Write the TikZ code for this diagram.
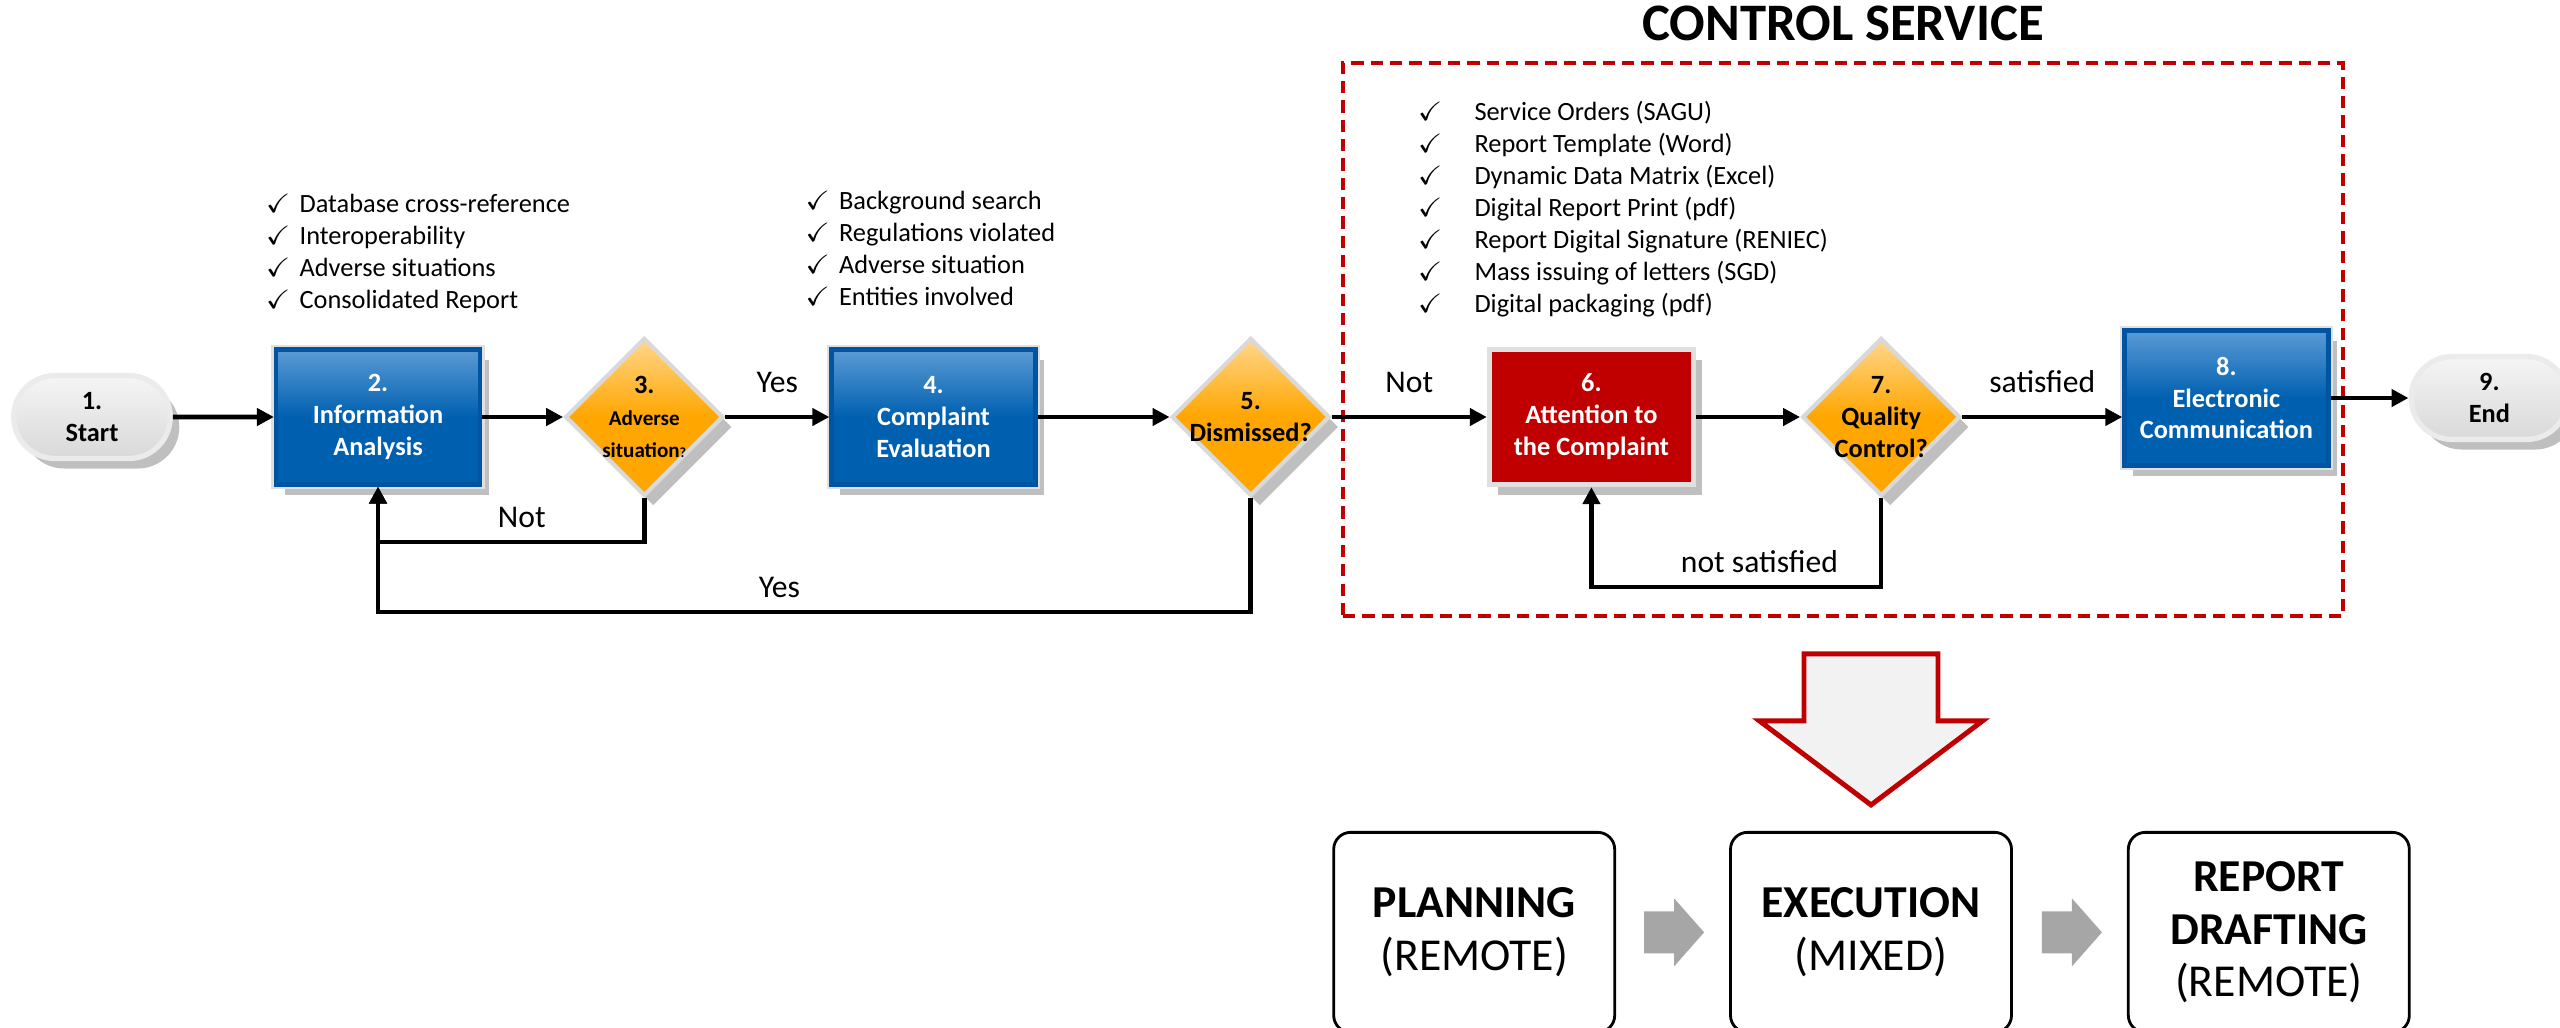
\documentclass[tikz,border=0pt]{standalone}
\usepackage{fontspec}
\setmainfont{Carlito}
\usepackage{amssymb}
\usetikzlibrary{calc}
\usetikzlibrary{arrows.meta}
\usetikzlibrary{positioning}
\usetikzlibrary{shapes.geometric}
\usetikzlibrary{shapes.misc}
\usetikzlibrary{shadows}

\definecolor{boxtop}{RGB}{91,155,213}
\definecolor{boxbot}{RGB}{0,96,176}
\definecolor{boxedge}{RGB}{0,84,160}
\definecolor{ctrlred}{RGB}{192,0,0}
\definecolor{ambertop}{RGB}{255,215,140}
\definecolor{amber}{RGB}{255,166,0}
\definecolor{shadowgray}{RGB}{191,191,191}
\definecolor{stepgray}{RGB}{166,166,166}
\definecolor{arrowfill}{RGB}{242,242,242}

\newcommand{\listtick}[1][0.34cm]{\makebox[#1][l]{$\checkmark$}}

\tikzstyle{boxshadow} = [drop shadow={shadow xshift=0.09cm, shadow yshift=-0.1cm,
    fill=shadowgray, opacity=1}]
\tikzstyle{stepbox} = [rectangle, boxshadow, align=center, text=white,
    font=\fontsize{7.5}{9.1}\selectfont\bfseries, minimum width=2.04cm, minimum height=1.35cm]
\tikzstyle{block} = [stepbox, preaction={draw=black!12, line width=2.6pt},
    draw=boxedge, line width=1.2pt, top color=boxtop, bottom color=boxbot, middle color=boxbot]
\tikzstyle{redblock} = [stepbox, draw=black!12, line width=1.5pt, fill=ctrlred]
\tikzstyle{decision} = [diamond, aspect=1, boxshadow, draw=black!15, line width=1.2pt,
    top color=ambertop, bottom color=amber, middle color=amber, align=center,
    font=\fontsize{7.5}{9.1}\selectfont\bfseries, minimum width=1.58cm, minimum height=1.58cm,
    inner sep=-0.2cm]
\tikzstyle{terminal} = [rounded rectangle, boxshadow, draw=black!8, line width=1.5pt,
    top color=black!4, bottom color=black!15, align=center,
    font=\fontsize{7.5}{9.1}\selectfont\bfseries, minimum width=1.8cm, minimum height=0.83cm]
\tikzstyle{flow} = [-{Triangle[length=0.17cm,width=0.17cm]}, line width=1.3pt]
\tikzstyle{lbl} = [font=\fontsize{9}{11}\selectfont]
\tikzstyle{checklist} = [align=left, inner sep=0, font=\fontsize{7.5}{9.1}\selectfont]
\tikzstyle{dashbox} = [draw=ctrlred, dash pattern=on 3.5pt off 2pt, line width=1.1pt,
    minimum width=10cm, minimum height=5.53cm]
\tikzstyle{phase} = [rectangle, rounded corners=0.17cm, draw, line width=0.8pt,
    minimum width=2.81cm, minimum height=2cm, align=center, font=\fontsize{13}{15}\selectfont]

\begin{document}
\begin{tikzpicture}
    \useasboundingbox (0,0) rectangle (25.6,-10.27);

    % control service frame
    \node[dashbox] (svc) at (18.43,-3.395) {};
    \node[font=\fontsize{15}{18}\selectfont\bfseries, inner sep=0, above=0.2cm of svc] (title) {CONTROL SERVICE};

    % main flow
    \node[terminal] (start) at (0.92,-4.17) {1.\\Start};
    \node[block, right=1.01cm of start] (info) {2.\\Information\\Analysis};
    \node[decision, right=0.81cm of info] (adv)
        {3.\\{\fontsize{6}{7.6}\selectfont Adverse}\\{\fontsize{6}{7.6}\selectfont situation{\fontsize{4}{4}\selectfont ?}}};
    \node[block, right=1.04cm of adv] (eval) {4.\\Complaint\\Evaluation};
    \node[decision, right=1.32cm of eval] (dis) {5.\\Dismissed?};
    \node[redblock, right=1.55cm of dis] (att) {6.\\Attention to\\the Complaint};
    \node[decision, right=1.04cm of att] (qc) {7.\\Quality\\Control?};
    \node[block, right=1.6cm of qc, yshift=0.19cm] (comm) {8.\\Electronic\\Communication};
    \node[terminal, right=0.78cm of comm] (fin) {9.\\End};

    \draw[flow] (start) -- (info);
    \draw[flow] (info) -- (adv);
    \draw[flow] (adv) -- node[lbl, above=0.1cm] (yes1) {Yes} (eval);
    \draw[flow] (eval) -- (dis);
    \draw[flow] (dis) -- node[lbl, above=0.1cm] (not1) {Not} (att);
    \draw[flow] (att) -- (qc);
    \draw[flow] (qc) -- node[lbl, above=0.1cm] (sat) {satisfied} (qc -| comm.west);
    \draw[flow] (comm) -- (fin);

    % loops back
    \draw[flow] (adv.south) -- ++(0,-0.44) -| node[lbl, above, pos=0.23] (not2) {Not} (info.south);
    \draw[flow] (dis.south) -- ++(0,-1.14) -| node[lbl, above, pos=0.27] (yes2) {Yes} (info.south);
    \draw[flow] (qc.south) -- ++(0,-0.89) -| node[lbl, above, pos=0.21] (notsat) {not satisfied} (att.south);

    % check lists
    \node[checklist, above right=0.34cm and -0.09cm of info.north west] (infolist)
        {\listtick Database cross-reference\\\listtick Interoperability\\\listtick Adverse situations\\\listtick Consolidated Report};
    \node[checklist, above right=0.41cm and -0.25cm of eval.north west] (evallist)
        {\listtick Background search\\\listtick Regulations violated\\\listtick Adverse situation\\\listtick Entities involved};
    \node[checklist, above right=0.29cm and -0.70cm of att.north west] (svclist)
        {\listtick[0.57cm]Service Orders (SAGU)\\\listtick[0.57cm]Report Template (Word)\\\listtick[0.57cm]Dynamic Data Matrix (Excel)\\\listtick[0.57cm]Digital Report Print (pdf)\\\listtick[0.57cm]Report Digital Signature (RENIEC)\\\listtick[0.57cm]Mass issuing of letters (SGD)\\\listtick[0.57cm]Digital packaging (pdf)};

    % phases
    \node[phase, below=2.13cm of svc, xshift=0.28cm] (exe) {\textbf{EXECUTION}\\(MIXED)};
    \node[phase, left=1.13cm of exe] (plan) {\textbf{PLANNING}\\(REMOTE)};
    \node[phase, right=1.14cm of exe] (rep) {\textbf{REPORT}\\\textbf{DRAFTING}\\(REMOTE)};

    \draw[fill=arrowfill, draw=ctrlred, line width=1.4pt] ($(exe.north)+(-0.67,1.77)$) -- ++(1.34,0) -- ++(0,-0.67)
        -- ++(0.445,0) -- ($(exe.north)+(0,0.26)$) -- ++(-1.115,0.84) -- ++(0.445,0) -- cycle;
    \fill[stepgray] ($(plan.east)+(0.28,0.21)$) -- ++(0.3,0) -- ++(0,0.13) -- ++(0.3,-0.34)
        -- ++(-0.3,-0.34) -- ++(0,0.13) -- ++(-0.3,0) -- cycle;
    \fill[stepgray] ($(exe.east)+(0.29,0.21)$) -- ++(0.3,0) -- ++(0,0.13) -- ++(0.3,-0.34)
        -- ++(-0.3,-0.34) -- ++(0,0.13) -- ++(-0.3,0) -- cycle;
\end{tikzpicture}
\end{document}
